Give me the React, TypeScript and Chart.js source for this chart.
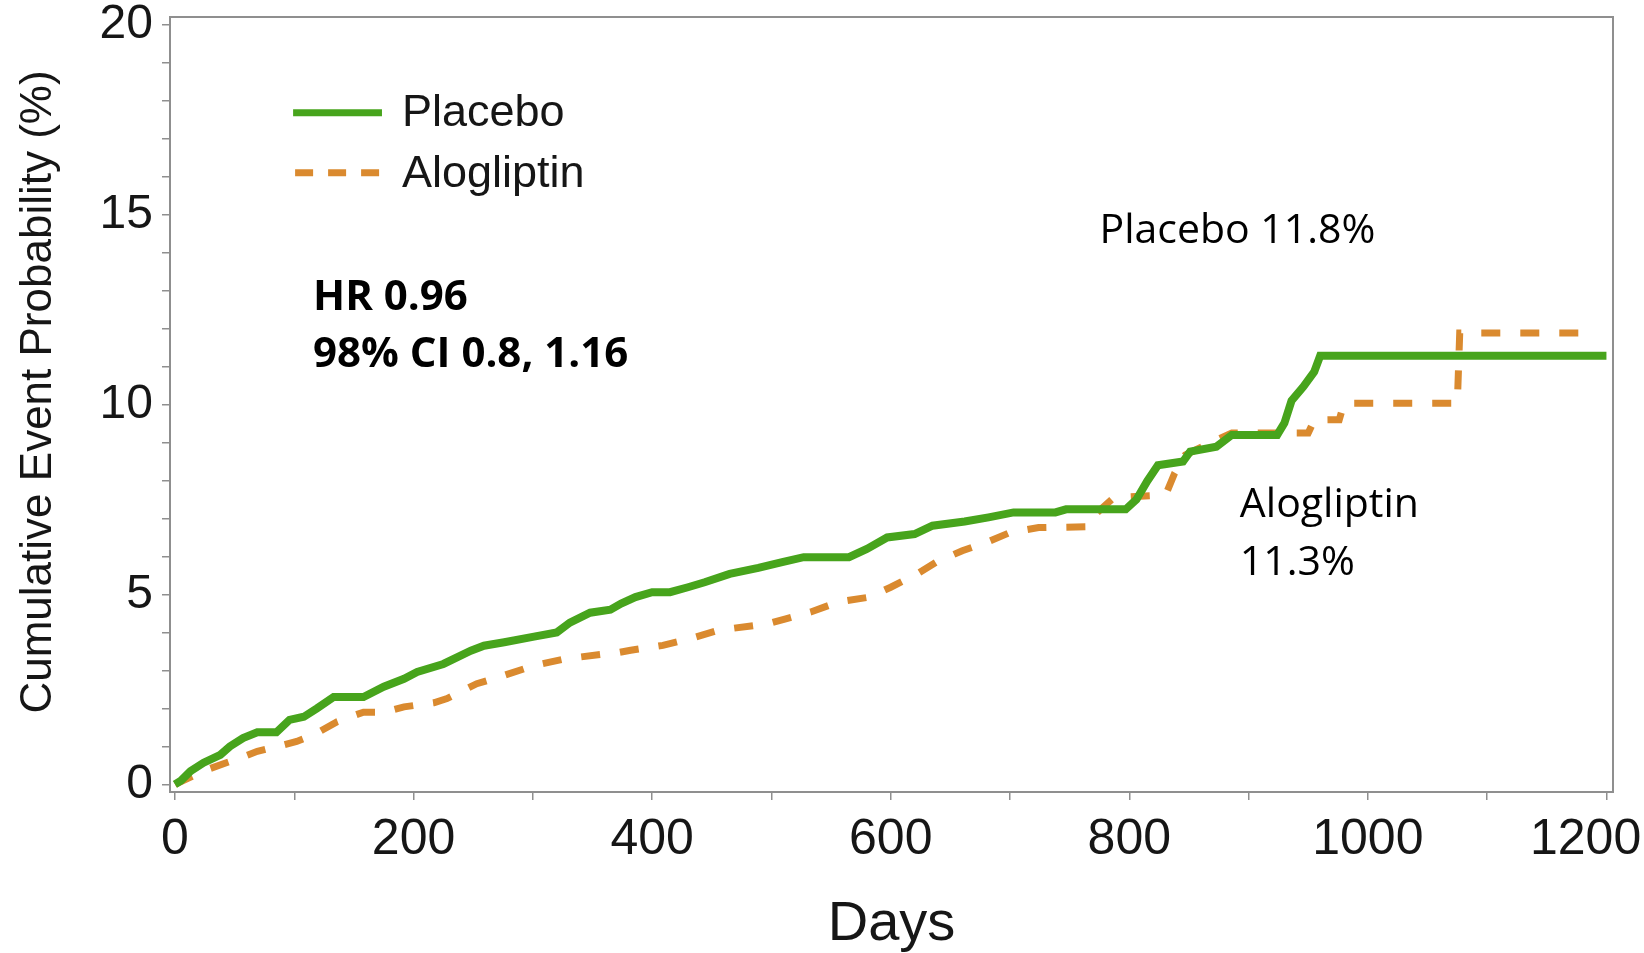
import React, { useEffect, useRef } from 'react';
import { Chart, registerables } from 'chart.js';

Chart.register(...registerables);

// ---------- data ----------
const seriesNames = ['Placebo', 'Alogliptin'];

const placeboDays = [
  0, 5, 13, 24, 38, 46, 57, 69, 85, 96, 108, 119, 133, 158, 175, 192, 203, 225, 248, 259,
  276, 301, 320, 331, 348, 365, 374, 386, 400, 415, 430, 444, 465, 489, 509, 527, 565, 580,
  597, 620, 635, 662, 682, 703, 738, 747, 797, 806, 815, 824, 845, 851, 873, 886, 924, 930,
  936, 946, 955, 960, 1200,
];
const placeboPct = [
  0, 0.1, 0.35, 0.57, 0.78, 1.0, 1.22, 1.37, 1.37, 1.7, 1.78, 2.0, 2.3, 2.3, 2.57, 2.78, 2.96, 3.17, 3.52, 3.65,
  3.74, 3.89, 4.0, 4.26, 4.52, 4.6, 4.76, 4.93, 5.06, 5.06, 5.19, 5.32, 5.54, 5.7, 5.85, 5.98, 5.98, 6.2,
  6.5, 6.59, 6.81, 6.92, 7.03, 7.16, 7.16, 7.24, 7.24, 7.5, 7.98, 8.4, 8.5, 8.76, 8.89, 9.2, 9.2, 9.51,
  10.1, 10.47, 10.86, 11.28, 11.28,
];

const alogliptinDays = [
  0, 15, 27, 43, 55, 69, 91, 102, 116, 136, 147, 158, 175, 192, 217, 228, 242, 253, 276, 301,
  326, 357, 368, 382, 409, 432, 456, 497, 512, 533, 556, 582, 600, 622, 638, 660, 680, 700,
  724, 765, 770, 787, 819, 831, 838, 847, 867, 886, 950, 955, 976, 980, 1075, 1077, 1188,
];
const alogliptinPct = [
  0, 0.22, 0.39, 0.57, 0.7, 0.87, 1.04, 1.13, 1.3, 1.65, 1.78, 1.9, 1.9, 2.04, 2.15, 2.26, 2.48, 2.65, 2.87, 3.13,
  3.3, 3.42, 3.45, 3.53, 3.66, 3.84, 4.06, 4.23, 4.36, 4.54, 4.8, 4.93, 5.19, 5.54, 5.85, 6.15, 6.37, 6.63,
  6.76, 6.78, 7.07, 7.55, 7.6, 7.66, 8.19, 8.67, 8.98, 9.25, 9.25, 9.59, 9.6, 10.03, 10.03, 11.88, 11.88,
];

const xTickValues = [0, 100, 200, 300, 400, 500, 600, 700, 800, 900, 1000, 1100, 1200];
const xTickLabels = [0, 200, 400, 600, 800, 1000, 1200];
const yTickValues = [0, 1, 2, 3, 4, 5, 6, 7, 8, 9, 10, 11, 12, 13, 14, 15, 16, 17, 18, 19, 20];
const yTickLabels = [0, 5, 10, 15, 20];

const xTitle = 'Days';
const yTitle = 'Cumulative Event Probability (%)';
const hrLines = ['HR 0.96', '98% CI 0.8, 1.16'];
const placeboNote = 'Placebo 11.8%';
const alogliptinNote = ['Alogliptin', '11.3%'];

// ---------- styles ----------
const GREEN = '#47a41c';
const ORANGE = '#da8a2f';
const AXIS = '#8f8f8f';
const TEXT = '#161616';
const SAS_FONT = '"Liberation Sans", Arial, Helvetica, sans-serif';
const NOTE_FONT = '"Open Sans", "Noto Sans", sans-serif';

const overlayPlugin = {
  id: 'overlay',
  afterDatasetsDraw(chart: any) {
    const { ctx, chartArea, scales } = chart;
    const x = scales.x;
    const y = scales.y;
    ctx.save();

    // frame
    ctx.strokeStyle = AXIS;
    ctx.lineWidth = 2;
    ctx.setLineDash([]);
    ctx.strokeRect(chartArea.left, chartArea.top, chartArea.right - chartArea.left, chartArea.bottom - chartArea.top);

    // y axis title
    ctx.save();
    ctx.translate(chartArea.left - 131.5, y.getPixelForValue(10.33));
    ctx.rotate(-Math.PI / 2);
    ctx.fillStyle = TEXT;
    ctx.font = `44px ${SAS_FONT}`;
    ctx.textAlign = 'center';
    ctx.textBaseline = 'middle';
    ctx.fillText(yTitle, 0, 0);
    ctx.restore();

    // legend
    const lx0 = x.getPixelForValue(99);
    const lx1 = x.getPixelForValue(173.5);
    const ltx = x.getPixelForValue(190.3);
    const ly0 = y.getPixelForValue(17.68);
    const ly1 = y.getPixelForValue(16.1);

    ctx.lineCap = 'butt';
    ctx.strokeStyle = GREEN;
    ctx.lineWidth = 7;
    ctx.beginPath();
    ctx.moveTo(lx0, ly0);
    ctx.lineTo(lx1, ly0);
    ctx.stroke();

    ctx.strokeStyle = ORANGE;
    ctx.setLineDash([18, 15]);
    ctx.beginPath();
    ctx.moveTo(lx0 + 2, ly1);
    ctx.lineTo(lx1, ly1);
    ctx.stroke();
    ctx.setLineDash([]);

    ctx.fillStyle = TEXT;
    ctx.font = `45px ${SAS_FONT}`;
    ctx.textAlign = 'left';
    ctx.textBaseline = 'middle';
    ctx.fillText(seriesNames[0], ltx, ly0 + 1);
    ctx.fillText(seriesNames[1], ltx, ly1 + 2);

    // annotations
    ctx.fillStyle = '#000';
    ctx.textBaseline = 'alphabetic';
    ctx.font = `bold 42px ${NOTE_FONT}`;
    ctx.fillText(hrLines[0], x.getPixelForValue(115.7), y.getPixelForValue(12.49));
    ctx.fillText(hrLines[1], x.getPixelForValue(115.7), y.getPixelForValue(11.0));

    ctx.font = `41px ${NOTE_FONT}`;
    ctx.fillText(placeboNote, x.getPixelForValue(775), y.getPixelForValue(14.26));
    ctx.fillText(alogliptinNote[0], x.getPixelForValue(892.7), y.getPixelForValue(7.04));
    ctx.fillText(alogliptinNote[1], x.getPixelForValue(892.7), y.getPixelForValue(5.51));

    ctx.restore();
  },
};

export default function App() {
  const canvasRef = useRef<HTMLCanvasElement | null>(null);

  useEffect(() => {
    const canvas = canvasRef.current;
    if (!canvas) return;

    const chart = new Chart(canvas, {
      type: 'line',
      data: {
        datasets: [
          {
            label: seriesNames[0],
            data: placeboDays.map((d, i) => ({ x: d, y: placeboPct[i] })),
            borderColor: GREEN,
            backgroundColor: GREEN,
            borderWidth: 8,
            pointRadius: 0,
            fill: false,
            tension: 0,
            borderCapStyle: 'butt',
            borderJoinStyle: 'miter',
          },
          {
            label: seriesNames[1],
            data: alogliptinDays.map((d, i) => ({ x: d, y: alogliptinPct[i] })),
            borderColor: ORANGE,
            backgroundColor: ORANGE,
            borderWidth: 7,
            borderDash: [19, 20],
            pointRadius: 0,
            fill: false,
            tension: 0,
            borderCapStyle: 'butt',
            borderJoinStyle: 'miter',
          },
        ],
      },
      options: {
        animation: false,
        responsive: false,
        maintainAspectRatio: false,
        layout: { padding: { left: 0, right: 31, top: 17, bottom: 0 } },
        plugins: {
          legend: { display: false },
          tooltip: { enabled: false },
        },
        scales: {
          x: {
            type: 'linear',
            min: -4.2,
            max: 1205.5,
            afterBuildTicks: (s: any) => {
              s.ticks = xTickValues.map((v) => ({ value: v }));
            },
            afterFit: (s: any) => {
              s.height = 161;
              s.paddingLeft = 0;
              s.paddingRight = 0;
            },
            ticks: {
              autoSkip: false,
              maxRotation: 0,
              minRotation: 0,
              padding: 10,
              color: TEXT,
              font: { family: SAS_FONT, size: 50 },
              callback: (v: any) => {
                const n = Number(v);
                if (!xTickLabels.includes(n)) return '';
                return n === xTickLabels[xTickLabels.length - 1] ? `${n}   ` : String(n);
              },
            },
            grid: {
              display: true,
              drawOnChartArea: false,
              drawTicks: true,
              tickLength: 8,
              color: AXIS,
              lineWidth: 1.5,
            },
            border: { display: false },
            title: {
              display: true,
              text: xTitle,
              color: TEXT,
              font: { family: SAS_FONT, size: 56, lineHeight: 1 },
              padding: { top: 0, bottom: 0 },
            },
          },
          y: {
            type: 'linear',
            min: -0.2,
            max: 20.2,
            afterBuildTicks: (s: any) => {
              s.ticks = yTickValues.map((v) => ({ value: v }));
            },
            afterFit: (s: any) => {
              s.width = 170;
              s.paddingTop = 0;
              s.paddingBottom = 0;
            },
            ticks: {
              autoSkip: false,
              padding: 9,
              color: TEXT,
              font: { family: SAS_FONT, size: 48 },
              callback: (v: any) => (yTickLabels.includes(Number(v)) ? String(v) : ''),
            },
            grid: {
              display: true,
              drawOnChartArea: false,
              drawTicks: true,
              tickLength: 8,
              color: AXIS,
              lineWidth: 1.5,
            },
            border: { display: false },
            title: { display: false, text: yTitle },
          },
        },
      },
      plugins: [overlayPlugin],
    });

    return () => {
      chart.destroy();
    };
  }, []);

  return (
    <div style={{ position: 'fixed', left: 0, top: 0, width: 1644, height: 953, background: '#fff' }}>
      <canvas ref={canvasRef} width={1644} height={953} style={{ display: 'block', width: 1644, height: 953 }} />
    </div>
  );
}
